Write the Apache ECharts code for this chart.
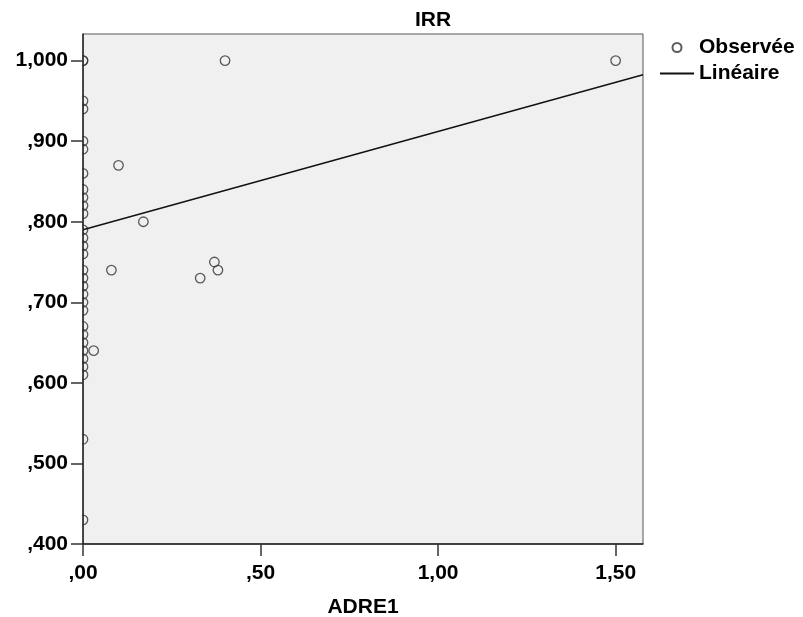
<!DOCTYPE html>
<html><head><meta charset="utf-8">
<script src="https://cdn.jsdelivr.net/npm/echarts@6/dist/echarts.min.js"></script>
<style>html,body{margin:0;padding:0;background:#fff}#c{width:803px;height:617px}</style>
</head><body><div id="c"></div>
<script>
// Observed points (ADRE1, IRR)
const obsX = [0,0,0,0,0,0,0,0,0,0,0,0,0,0,0,0,0,0,0,0,0,0,0,0,0,0,0,0,0,0,
  0.40,1.50,0.10,0.17,0.08,0.33,0.37,0.38,0.03];
const obsY = [1.00,0.95,0.94,0.90,0.89,0.86,0.84,0.83,0.82,0.81,0.79,0.78,0.77,0.76,0.74,0.73,0.72,0.71,0.70,0.69,0.67,0.66,0.65,0.64,0.63,0.62,0.61,0.53,0.43,1.00,
  1.00,1.00,0.87,0.80,0.74,0.73,0.75,0.74,0.64];
// Linear fit
const fitIntercept = 0.790;
const fitSlope = 0.122;
const xMin = 0, xMax = 1.577;
const yMin = 0.4, yMax = 1.033;
const xTicks = [0, 0.5, 1.0, 1.5];
const yTicks = [0.4, 0.5, 0.6, 0.7, 0.8, 0.9, 1.0];
const xTickLabels = [',00', ',50', '1,00', '1,50'];
const yTickLabels = [',400', ',500', ',600', ',700', ',800', ',900', '1,000'];

const scatterData = obsX.map((x, i) => [x, obsY[i]]);
const lineData = [xMin, xMax].map(x => [x, fitIntercept + fitSlope * x]);

const font = 'Liberation Sans, Arial, sans-serif';
const FS = 21;
const chart = echarts.init(document.getElementById('c'), null, {renderer: 'canvas'});
chart.setOption({
  animation: false,
  backgroundColor: '#fff',
  title: {text: 'IRR', left: 410, top: 5,
    textStyle: {fontFamily: font, fontSize: FS, fontWeight: 'bold', color: '#000'}},
  legend: {
    orient: 'vertical', left: 654, top: 32, itemWidth: 34, itemHeight: 9, itemGap: 5,
    textStyle: {fontFamily: font, fontSize: FS, fontWeight: 'bold', color: '#000'},
    data: ['Observée', 'Linéaire']
  },
  graphic: [{type: 'rect', left: 0, top: 28, shape: {width: 82.3, height: 522},
    style: {fill: '#fff'}, z: 50, silent: true}],
  grid: {left: 83, top: 34, right: 160, bottom: 73, show: true, outerBoundsMode: 'none', containLabel: false,
    backgroundColor: '#f0f0f0', borderColor: '#555', borderWidth: 1},
  xAxis: {
    type: 'value', min: xMin, max: xMax, interval: 0.5, z: 60,
    name: 'ADRE1', nameLocation: 'middle', nameGap: 53,
    nameTextStyle: {fontFamily: font, fontSize: FS, fontWeight: 'bold', color: '#000'},
    splitLine: {show: false},
    axisLine: {show: true, onZero: false, lineStyle: {color: '#222', width: 1.5}},
    axisTick: {show: true, length: 12, lineStyle: {color: '#333', width: 1.5}, customValues: xTicks},
    axisLabel: {margin: 19, fontFamily: font, fontSize: FS, fontWeight: 'bold', color: '#000',
      customValues: xTicks,
      formatter: v => xTickLabels[xTicks.findIndex(t => Math.abs(t - v) < 1e-6)] || ''}
  },
  yAxis: {
    type: 'value', min: yMin, max: yMax, interval: 0.1, z: 60,
    splitLine: {show: false},
    axisLine: {show: true, onZero: false, lineStyle: {color: '#222', width: 1.5}},
    axisTick: {show: true, length: 12, lineStyle: {color: '#333', width: 1.5}, customValues: yTicks},
    axisLabel: {margin: 15, fontFamily: font, fontSize: FS, fontWeight: 'bold', color: '#000',
      customValues: yTicks,
      formatter: v => yTickLabels[yTicks.findIndex(t => Math.abs(t - v) < 1e-6)] || ''}
  },
  series: [
    {name: 'Observée', type: 'scatter', data: scatterData, symbol: 'circle', symbolSize: 9.5, clip: true,
      itemStyle: {color: 'rgba(0,0,0,0)', borderColor: '#333', borderWidth: 1.3}, z: 2},
    {name: 'Linéaire', type: 'line', data: lineData, showSymbol: false, symbol: 'none',
      lineStyle: {color: '#111', width: 1.4}, itemStyle: {color: 'rgba(0,0,0,0)'}, z: 3}
  ]
});
</script></body></html>
